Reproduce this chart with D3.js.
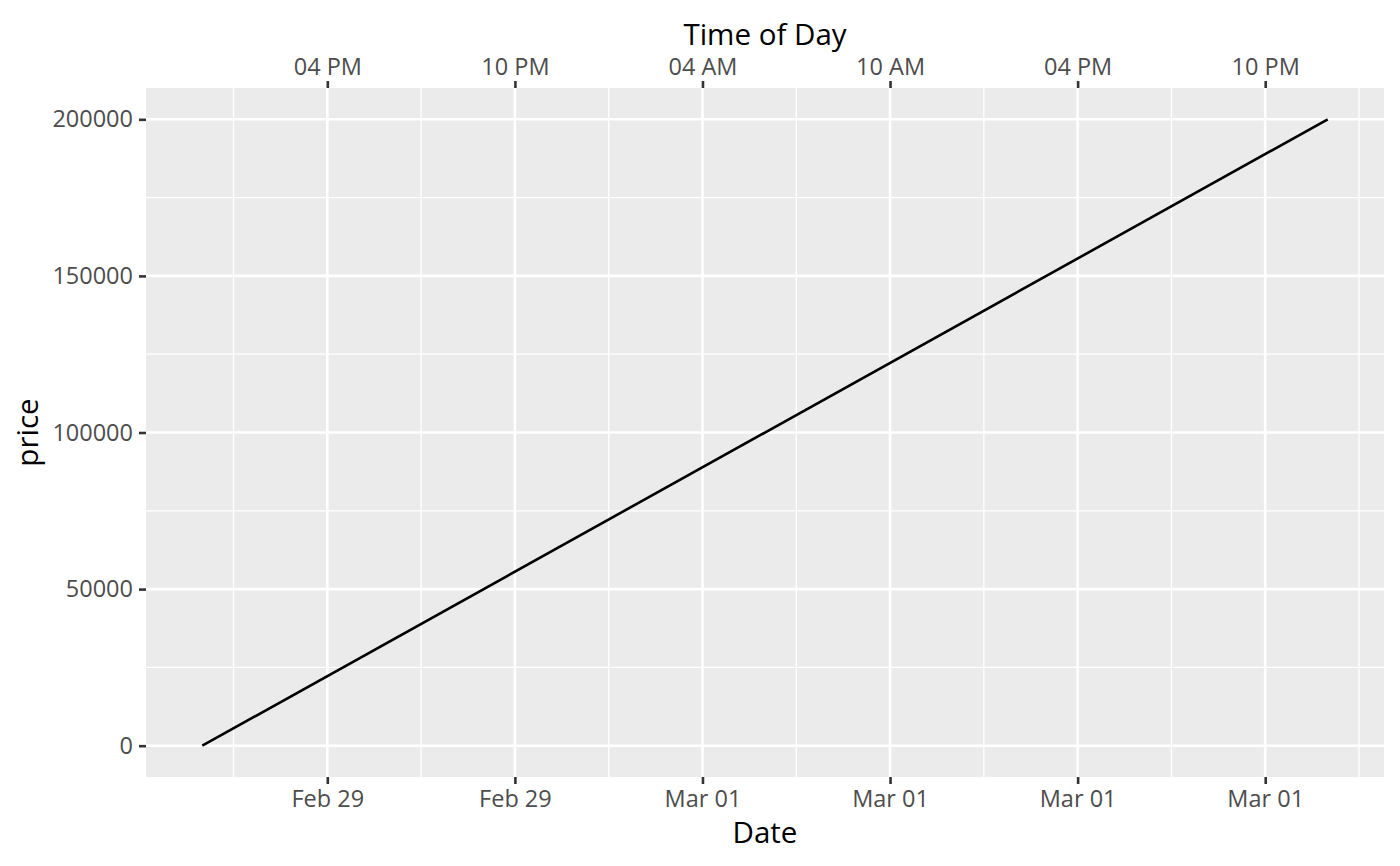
<!DOCTYPE html>
<html>
<head>
<meta charset="utf-8">
<script src="https://cdn.jsdelivr.net/npm/d3@7"></script>
<style>
  html, body { margin: 0; padding: 0; background: #fff; }
  text { font-family: "Open Sans", "Noto Sans", sans-serif; }
</style>
</head>
<body>
<div id="chart"></div>
<script>
// data
const times = ['2024-02-29T12:00:00Z', '2024-03-02T00:00:00Z'];
const prices = [0, 200000];

const xBreaks = ['2024-02-29T16:00:00Z', '2024-02-29T22:00:00Z', '2024-03-01T04:00:00Z',
  '2024-03-01T10:00:00Z', '2024-03-01T16:00:00Z', '2024-03-01T22:00:00Z'];
const xMinor = ['2024-02-29T13:00:00Z', '2024-02-29T19:00:00Z', '2024-03-01T01:00:00Z',
  '2024-03-01T07:00:00Z', '2024-03-01T13:00:00Z', '2024-03-01T19:00:00Z', '2024-03-02T01:00:00Z'];
const yBreaks = [0, 50000, 100000, 150000, 200000];
const yMinor = [25000, 75000, 125000, 175000];

const width = 1400;
const height = 866;
const margin = { top: 88, right: 16, bottom: 89, left: 146 };

const data = times.map((t, i) => ({ t: new Date(t), price: prices[i] }));

const svg = d3.select('#chart')
  .append('svg')
  .attr('width', width)
  .attr('height', height)
  .attr('viewBox', `0 0 ${width} ${height}`);

// ggplot-style 5% expansion
const tExt = d3.extent(data, d => d.t);
const tPad = (tExt[1] - tExt[0]) * 0.05;
const yExt = d3.extent(data, d => d.price);
const yPad = (yExt[1] - yExt[0]) * 0.05;

const x = d3.scaleUtc()
  .domain([new Date(+tExt[0] - tPad), new Date(+tExt[1] + tPad)])
  .range([margin.left, width - margin.right]);

const y = d3.scaleLinear()
  .domain([yExt[0] - yPad, yExt[1] + yPad])
  .range([height - margin.bottom, margin.top]);

const pw = width - margin.right - margin.left;
const ph = height - margin.bottom - margin.top;

svg.append('rect')
  .attr('x', margin.left)
  .attr('y', margin.top)
  .attr('width', pw)
  .attr('height', ph)
  .attr('fill', '#EBEBEB');

const grid = svg.append('g').attr('stroke', '#fff');

grid.selectAll('.xminor')
  .data(xMinor.map(d => new Date(d)))
  .join('line')
  .attr('x1', d => x(d)).attr('x2', d => x(d))
  .attr('y1', margin.top).attr('y2', margin.top + ph)
  .attr('stroke-width', 1.3);

grid.selectAll('.yminor')
  .data(yMinor)
  .join('line')
  .attr('y1', d => y(d)).attr('y2', d => y(d))
  .attr('x1', margin.left).attr('x2', margin.left + pw)
  .attr('stroke-width', 1.3);

grid.selectAll('.xmajor')
  .data(xBreaks.map(d => new Date(d)))
  .join('line')
  .attr('x1', d => x(d)).attr('x2', d => x(d))
  .attr('y1', margin.top).attr('y2', margin.top + ph)
  .attr('stroke-width', 2.6);

grid.selectAll('.ymajor')
  .data(yBreaks)
  .join('line')
  .attr('y1', d => y(d)).attr('y2', d => y(d))
  .attr('x1', margin.left).attr('x2', margin.left + pw)
  .attr('stroke-width', 2.6);

const line = d3.line()
  .x(d => x(d.t))
  .y(d => y(d.price));

svg.append('path')
  .datum(data)
  .attr('fill', 'none')
  .attr('stroke', '#000')
  .attr('stroke-width', 2.6)
  .attr('d', line);

function styleAxis(g) {
  g.select('.domain').remove();
  g.selectAll('.tick line').attr('stroke', '#333333').attr('stroke-width', 2.6);
  g.selectAll('.tick text')
    .attr('fill', '#4D4D4D')
    .style('font-size', '23.5px')
    .style('font-family', '"Open Sans", sans-serif');
}

const tickVals = xBreaks.map(d => new Date(d));

svg.append('g')
  .attr('transform', `translate(0,${margin.top + ph})`)
  .call(d3.axisBottom(x).tickValues(tickVals).tickFormat(d3.utcFormat('%b %d'))
    .tickSize(7).tickPadding(6))
  .call(styleAxis);

svg.append('g')
  .attr('transform', `translate(0,${margin.top})`)
  .call(d3.axisTop(x).tickValues(tickVals).tickFormat(d3.utcFormat('%I %p'))
    .tickSize(7).tickPadding(6))
  .call(styleAxis);

svg.append('g')
  .attr('transform', `translate(${margin.left},0)`)
  .call(d3.axisLeft(y).tickValues(yBreaks).tickFormat(d3.format('d'))
    .tickSize(7).tickPadding(6))
  .call(styleAxis);

svg.append('text')
  .attr('x', margin.left + pw / 2)
  .attr('y', 843)
  .attr('text-anchor', 'middle')
  .style('font-size', '29.5px')
  .text('Date');

svg.append('text')
  .attr('x', margin.left + pw / 2)
  .attr('y', 45)
  .attr('text-anchor', 'middle')
  .style('font-size', '29.5px')
  .text('Time of Day');

svg.append('text')
  .attr('transform', `translate(38,${margin.top + ph / 2}) rotate(-90)`)
  .attr('text-anchor', 'middle')
  .style('font-size', '29.5px')
  .text('price');
</script>
</body>
</html>
